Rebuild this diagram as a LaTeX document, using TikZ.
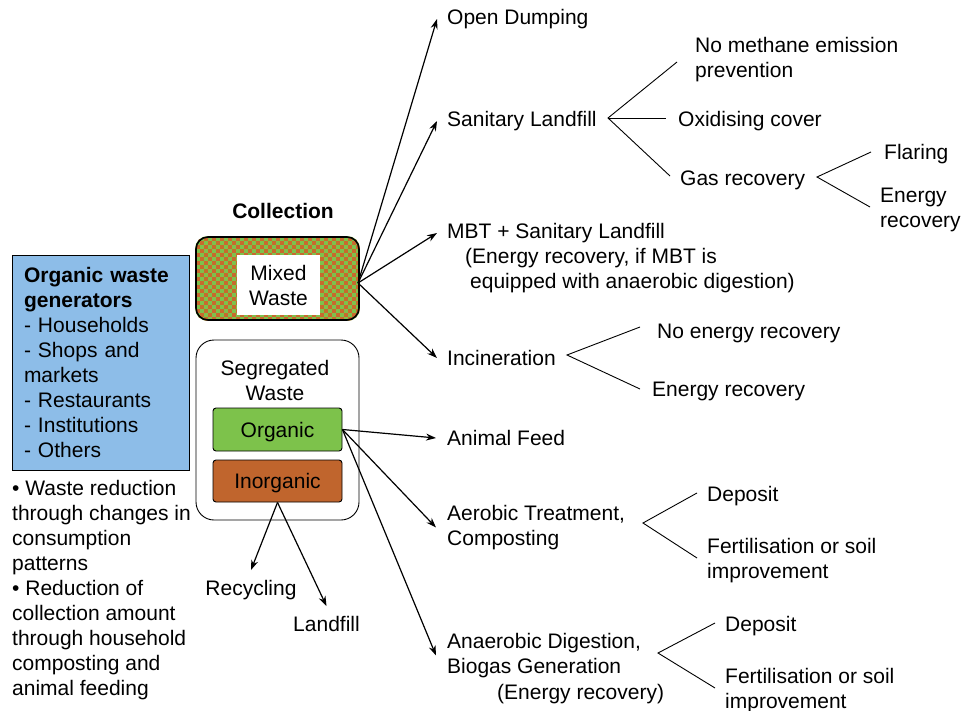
\documentclass[tikz,border=0pt]{standalone}
\usepackage{fontspec}
\setmainfont{Liberation Sans}
\usetikzlibrary{arrows.meta,backgrounds}
\definecolor{genblue}{HTML}{8DBDE8}
\definecolor{orggreen}{HTML}{7DC24B}
\definecolor{inorg}{HTML}{C0652D}
\definecolor{chkorange}{HTML}{C8692D}
\begin{document}
\begin{tikzpicture}[x=1pt,y=-1pt,
  every node/.style={font=\fontsize{21}{25}\selectfont, inner sep=0pt},
  lbl/.style={anchor=west, align=left, yshift=-2pt},
  arr/.style={-{Stealth[length=10pt,width=7pt]}, line width=1.2pt},
  branch/.style={line width=0.9pt},
  box/.style={draw, line width=0.9pt}
]
\useasboundingbox (0,0) rectangle (965,711);

% left side
\node[box, fill=genblue, minimum width=177pt, minimum height=215pt, text width=153pt, align=left] (gen) at (100.5,362.5)
  {\textbf{Organic waste}\\\textbf{generators}\\- Households\\- Shops and\\markets\\- Restaurants\\- Institutions\\- Others};
\node[lbl] (notes) at (12,588.5) {• Waste reduction\\through changes in\\consumption\\patterns\\• Reduction of\\collection amount\\through household\\composting and\\animal feeding};

% collection
\node[font=\bfseries\fontsize{21}{25}\selectfont] (coll) at (283,211) {Collection};
\node[draw, line width=1.6pt, rounded corners=12pt, minimum width=163pt, minimum height=83pt] (mixed) at (277.5,278.5) {};
\begin{scope}[on background layer]
  \clip[rounded corners=12pt] (mixed.south west) rectangle (mixed.north east);
  \fill[orggreen] (mixed.south west) rectangle (mixed.north east);
  \foreach \i in {0,...,40}{\foreach \j in {0,...,20}{
    \pgfmathtruncatemacro{\k}{mod(\i+\j,2)}
    \ifnum\k=0 \fill[chkorange] (196+4*\i,237+4*\j) rectangle ++(4,4);\fi}}
\end{scope}
\node[fill=white, minimum width=83pt, minimum height=60pt, align=center] (mixedtxt) at (278.5,285) {Mixed\\Waste};

\node[box, rounded corners=18pt, minimum width=163pt, minimum height=180pt] (seg) at (277.5,430) {};
\node[align=center] (segtxt) at (275,380) {Segregated\\Waste};
\node[box, fill=orggreen, rounded corners=3pt, minimum width=129pt, minimum height=43pt, text height=15.3pt, text depth=0pt] (org) at (277.5,429.5) {Organic};
\node[box, fill=inorg, rounded corners=3pt, minimum width=129pt, minimum height=42pt, text height=15.3pt, text depth=0pt] (inorg) at (277.5,481) {Inorganic};

\node[anchor=center, yshift=-2pt] (recyc) at (251,588) {Recycling};
\node[anchor=center] (landf) at (326.5,624) {Landfill};

% right side
\node[lbl] (open) at (447,17) {Open Dumping};
\node[lbl] (sl) at (447,119) {Sanitary Landfill};
\node[lbl] (nometh) at (695,57.5) {No methane emission\\prevention};
\node[lbl] (oxid) at (678,119) {Oxidising cover};
\node[lbl] (gasrec) at (680,178) {Gas recovery};
\node[lbl] (flar) at (884,152) {Flaring};
\node[lbl] (enrec1) at (880,208) {Energy\\recovery};
\node[lbl] (mbt) at (447,231) {MBT + Sanitary Landfill};
\node[lbl] (mbtn) at (465,268.5) {(Energy recovery, if MBT is\\\hspace*{5pt}equipped with anaerobic digestion)};
\node[lbl] (incin) at (447,356) {Incineration};
\node[lbl] (noen) at (657,331) {No energy recovery};
\node[lbl] (en2) at (652,389) {Energy recovery};
\node[lbl] (feed) at (447,436) {Animal Feed};
\node[lbl] (aer) at (447,525.5) {Aerobic Treatment,\\Composting};
\node[lbl] (dep1) at (707,494) {Deposit};
\node[lbl] (fert1) at (707,558.5) {Fertilisation or soil\\improvement};
\node[lbl] (ana) at (447,653.5) {Anaerobic Digestion,\\Biogas Generation};
\node[lbl] (anaen) at (497,692) {(Energy recovery)};
\node[lbl] (dep2) at (725,624) {Deposit};
\node[lbl] (fert2) at (725,688.5) {Fertilisation or soil\\improvement};

% arrows
\coordinate (mx) at (358,283);
\foreach \t in {open,sl,mbt,incin} \draw[arr] (mx) -- ([xshift=-10pt]\t.west);
\foreach \t in {feed,aer,ana} \draw[arr] (org.east) -- ([xshift=-11pt]\t.west);
\draw[arr] (inorg.south) -- ([yshift=10pt]recyc.north);
\draw[arr] (inorg.south) -- ([yshift=10pt]landf.north);

% branches
\coordinate (b1) at (608,118); \coordinate (b1a) at (677,62); \coordinate (b1b) at (666,118); \coordinate (b1c) at (670,176);
\draw[branch] (b1a) -- (b1) -- (b1c); \draw[branch] (b1) -- (b1b);
\coordinate (b2) at (817,177); \coordinate (b2a) at (871,152); \coordinate (b2b) at (870,207);
\draw[branch] (b2a) -- (b2) -- (b2b);
\coordinate (b3) at (567,355); \coordinate (b3a) at (640,327); \coordinate (b3b) at (640,389);
\draw[branch] (b3a) -- (b3) -- (b3b);
\coordinate (b4) at (643,523); \coordinate (b4a) at (697,493); \coordinate (b4b) at (697,558);
\draw[branch] (b4a) -- (b4) -- (b4b);
\coordinate (b5) at (658,653); \coordinate (b5a) at (715,623); \coordinate (b5b) at (715,688);
\draw[branch] (b5a) -- (b5) -- (b5b);
\end{tikzpicture}
\end{document}
